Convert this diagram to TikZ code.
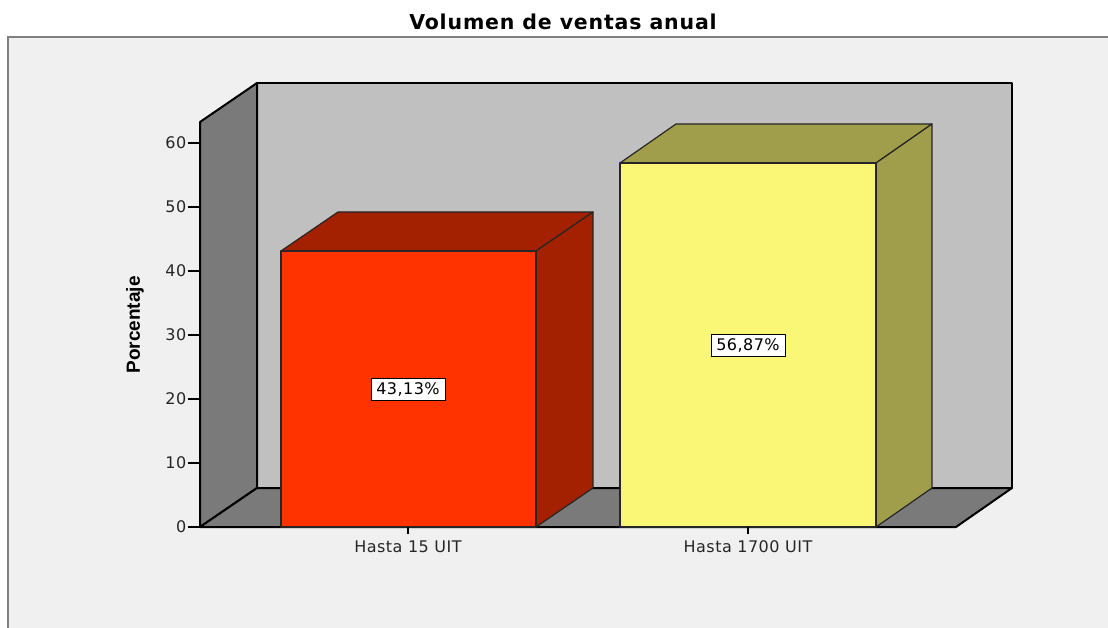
\documentclass[tikz,border=0pt]{standalone}
\usepackage{fontspec}
\setmainfont{DejaVu Sans}
\newfontfamily\spssfont[LetterSpace=3]{DejaVu Sans}
\newfontfamily\titlefont[LetterSpace=4]{DejaVu Sans}
\newfontfamily\axisfont{Liberation Sans}

\definecolor{panelbg}{HTML}{F0F0F0}
\definecolor{framegray}{HTML}{808080}
\definecolor{backwall}{HTML}{C0C0C0}
\definecolor{sidewall}{HTML}{7A7A7A}
\definecolor{redfront}{HTML}{FF3300}
\definecolor{reddark}{HTML}{A32000}
\definecolor{yellowfront}{HTML}{FAF776}
\definecolor{yellowdark}{HTML}{A09E4A}

\tikzset{
  wallline/.style={draw=black, line width=2pt, line join=round},
  barline/.style={draw=black!85, line width=1.2pt, line join=round},
  ticklabel/.style={font=\spssfont\fontsize{16}{18}\selectfont, text=black!85},
  pctbox/.style={draw=black, fill=white, line width=1pt, inner sep=0pt,
                 minimum width=74pt, minimum height=22pt,
                 font=\spssfont\fontsize{16}{18}\selectfont}
}

\begin{document}
\begin{tikzpicture}[x=1pt,y=-1pt]
    \path[use as bounding box] (0,0) rectangle (1108,628);
    \clip (0,0) rectangle (1108,628);

    % chart frame
    \draw[fill=panelbg, draw=framegray, line width=2pt] (8,37) rectangle (1140,660);
    \node[font=\titlefont\bfseries\fontsize{20.5}{24}\selectfont] (title) at (563,22) {Volumen de ventas anual};

    % walls and floor
    \coordinate (wallTL) at (257,83);
    \coordinate (wallBR) at (1012,488);
    \coordinate (axisTop) at (200,122);
    \coordinate (axisBot) at (200,527);
    \coordinate (floorR) at (956,527);

    \draw[wallline, fill=backwall] (wallTL) rectangle (wallBR);
    \draw[wallline, fill=sidewall] (axisTop) -- (wallTL) -- (257,488) -- (axisBot) -- cycle;
    \draw[wallline, fill=sidewall] (axisBot) -- (257,488) -- (wallBR) -- (floorR) -- cycle;

    % y axis
    \foreach \v in {0,10,...,60}
        \draw[line width=1.5pt] (200,{527-6.4*\v}) -- (188,{527-6.4*\v})
            node[left, inner sep=1pt, ticklabel] {\v};
    \draw[line width=2.5pt] (axisTop) -- (axisBot);
    \node[rotate=90, font=\axisfont\bfseries\fontsize{19}{22}\selectfont] (ylabel) at (135,325) {Porcentaje};

    % bar: Hasta 15 UIT
    \coordinate (redBL) at (281,527);
    \coordinate (redTL) at (281,251);
    \coordinate (redTR) at (536,251);
    \coordinate (redBR) at (536,527);
    \draw[barline, fill=reddark] (redTL) -- ++(57,-39) -- ++(255,0) -- (redTR) -- cycle;
    \draw[barline, fill=reddark] (redBR) -- ++(57,-39) -- ++(0,-276) -- (redTR) -- cycle;
    \draw[barline, fill=redfront] (redBL) rectangle (redTR);

    % bar: Hasta 1700 UIT
    \coordinate (yelBL) at (620,527);
    \coordinate (yelTL) at (620,163);
    \coordinate (yelTR) at (876,163);
    \coordinate (yelBR) at (876,527);
    \draw[barline, fill=yellowdark] (yelTL) -- ++(56,-39) -- ++(256,0) -- (yelTR) -- cycle;
    \draw[barline, fill=yellowdark] (yelBR) -- ++(56,-39) -- ++(0,-364) -- (yelTR) -- cycle;
    \draw[barline, fill=yellowfront] (yelBL) rectangle (yelTR);

    % value labels
    \node[pctbox] (pctA) at (408,389) {43,13\%};
    \node[pctbox] (pctB) at (748,345) {56,87\%};

    % x axis
    \draw[line width=1.5pt] (408,527) -- (408,534);
    \draw[line width=1.5pt] (748,527) -- (748,534);
    \node[ticklabel, anchor=base] (catA) at (408,552) {Hasta 15 UIT};
    \node[ticklabel, anchor=base] (catB) at (748,552) {Hasta 1700 UIT};
\end{tikzpicture}
\end{document}
